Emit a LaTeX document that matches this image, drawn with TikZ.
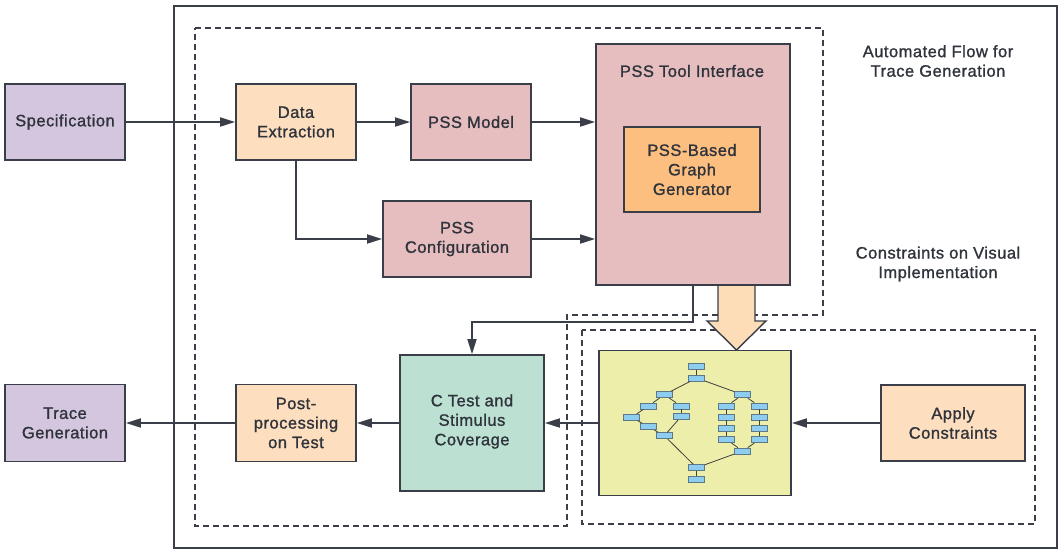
\documentclass[tikz,border=0pt]{standalone}
\usepackage{fontspec}
\setmainfont{Liberation Sans}[UprightFeatures={FakeBold=1.2}, LetterSpace=3]
\usetikzlibrary{arrows.meta}
\definecolor{ln}{RGB}{58,62,72}
\definecolor{txt}{RGB}{47,51,59}
\definecolor{purp}{RGB}{213,198,224}
\definecolor{peach}{RGB}{253,222,190}
\definecolor{pinkb}{RGB}{230,190,192}
\definecolor{orng}{RGB}{253,191,128}
\definecolor{grn}{RGB}{188,224,210}
\definecolor{yel}{RGB}{236,238,170}
\definecolor{bluen}{RGB}{140,205,240}
\definecolor{bluel}{RGB}{95,120,135}
\definecolor{blockf}{RGB}{253,220,184}
\tikzset{
  box/.style={draw=ln, line width=1.8pt, rectangle, align=center, text=txt,
    font=\fontsize{16.5}{19.5}\selectfont, inner sep=2pt},
  lbl/.style={align=center, text=txt, font=\fontsize{16.5}{19.5}\selectfont, inner sep=0pt},
  arr/.style={draw=ln, line width=1.8pt, -{Triangle[length=15pt,width=9pt]}},
  dsh/.style={draw=ln, line width=1.6pt, dash pattern=on 6pt off 4pt},
  gn/.style={draw=bluel, fill=bluen, line width=0.8pt, minimum width=16pt, minimum height=6pt, inner sep=0pt},
  ge/.style={draw=black!75, line width=0.8pt},
}
\begin{document}
\begin{tikzpicture}[x=1pt,y=-1pt]
\useasboundingbox (0,0) rectangle (1061,555);
% outer frame
\draw[draw=ln, line width=1.8pt] (174,6) rectangle (1057,548);
% dashed regions
\draw[dsh] (195,28) -- (823,28) -- (823,315) -- (567,315) -- (567,526) -- (195,526) -- cycle;
\draw[dsh] (582,330) rectangle (1035,524);
% labels
\node[lbl] (lflow) at (938,61) {Automated Flow for\\Trace Generation};
\node[lbl] (lcons) at (938,264) {Constraints on Visual\\Implementation};
% boxes
\node[box, fill=purp, minimum width=120pt, minimum height=76pt] (spec) at (65,122) {Specification};
\node[box, fill=peach, minimum width=120pt, minimum height=76pt] (dex) at (296,122) {Data\\Extraction};
\node[box, fill=pinkb, minimum width=120pt, minimum height=76pt] (model) at (471,122) {PSS Model};
\node[box, fill=pinkb, minimum width=148pt, minimum height=76pt] (conf) at (457,239) {PSS\\Configuration};
\node[box, fill=pinkb, minimum width=194pt, minimum height=241pt] (tool) at (693,164.5) {};
\node[lbl] (toollbl) at (692,71) {PSS Tool Interface};
\node[box, fill=orng, minimum width=136pt, minimum height=85pt] (gen) at (692,169.5) {PSS-Based\\Graph\\Generator};
\node[box, fill=grn, minimum width=144pt, minimum height=136pt, text depth=0pt] (ctest) at (472,423) {};
\node[lbl] (ctestlbl) at (472,421.5) {C Test and\\Stimulus\\Coverage};
\node[box, fill=peach, minimum width=120pt, minimum height=77pt] (post) at (296,423) {Post-\\processing\\on Test};
\node[box, fill=purp, minimum width=120pt, minimum height=77pt] (trace) at (65,423) {Trace\\Generation};
\node[box, fill=yel, minimum width=192pt, minimum height=145pt] (yb) at (695,423) {};
\node[box, fill=peach, minimum width=144pt, minimum height=76pt] (apply) at (953,423) {Apply\\Constraints};
% graph inside yellow box
\node[gn] (g1) at (696.7,366.7) {};
\node[gn] (g2) at (696.7,378) {};
\node[gn] (gL) at (664.3,394.7) {};
\node[gn] (gR) at (742.7,394.7) {};
\node[gn] (gLL) at (648.3,406) {};
\node[gn] (gLR) at (681,406) {};
\node[gn] (gLLL) at (631.7,417.3) {};
\node[gn] (gLR2) at (681,416.7) {};
\node[gn] (gLL2) at (648.3,426.7) {};
\node[gn] (gLM) at (664.3,435.7) {};
\node[gn] (ga1) at (726.7,406) {};
\node[gn] (ga2) at (726.7,417) {};
\node[gn] (ga3) at (726.7,428.3) {};
\node[gn] (ga4) at (726.7,439.7) {};
\node[gn] (gb1) at (759.3,406) {};
\node[gn] (gb2) at (759.3,417) {};
\node[gn] (gb3) at (759.3,428.3) {};
\node[gn] (gb4) at (759.3,439.7) {};
\node[gn] (gRM) at (742.7,451) {};
\node[gn] (gB1) at (696.7,467.7) {};
\node[gn] (gB2) at (696.7,479) {};
\draw[ge] (g1) -- (g2);
\draw[ge] (g2) -- (gL);
\draw[ge] (g2) -- (gR);
\draw[ge] (gL) -- (gLL);
\draw[ge] (gL) -- (gLR);
\draw[ge] (gLL) -- (gLLL);
\draw[ge] (gLLL) -- (gLL2);
\draw[ge] (gLL2) -- (gLM);
\draw[ge] (gLR) -- (gLR2);
\draw[ge] (gLR2) -- (gLM);
\draw[ge] (gLM) -- (gB1);
\draw[ge] (gR) -- (ga1);
\draw[ge] (gR) -- (gb1);
\draw[ge] (ga1) -- (ga2);
\draw[ge] (ga2) -- (ga3);
\draw[ge] (ga3) -- (ga4);
\draw[ge] (gb1) -- (gb2);
\draw[ge] (gb2) -- (gb3);
\draw[ge] (gb3) -- (gb4);
\draw[ge] (ga4) -- (gRM);
\draw[ge] (gb4) -- (gRM);
\draw[ge] (gRM) -- (gB1);
\draw[ge] (gB1) -- (gB2);
% connectors
\draw[arr] (spec) -- (dex);
\draw[arr] (dex) -- (model);
\draw[arr] (model.east) -- (model.east -| tool.west);
\draw[arr] (dex.south) |- (conf.west);
\draw[arr] (conf.east) -- (conf.east -| tool.west);
\draw[arr] (tool.south) -- (tool.south |- 0,322) -| (ctest.north);
\draw[arr] (apply) -- (yb);
\draw[arr] (yb) -- (ctest);
\draw[arr] (ctest) -- (post);
\draw[arr] (post) -- (trace);
% block arrow
\draw[draw=ln, line width=1.4pt, fill=blockf, line join=miter]
  (718,286) -- (718,321) -- (707,321) -- (736.5,350) -- (766,321) -- (755,321) -- (755,286);
\end{tikzpicture}
\end{document}
